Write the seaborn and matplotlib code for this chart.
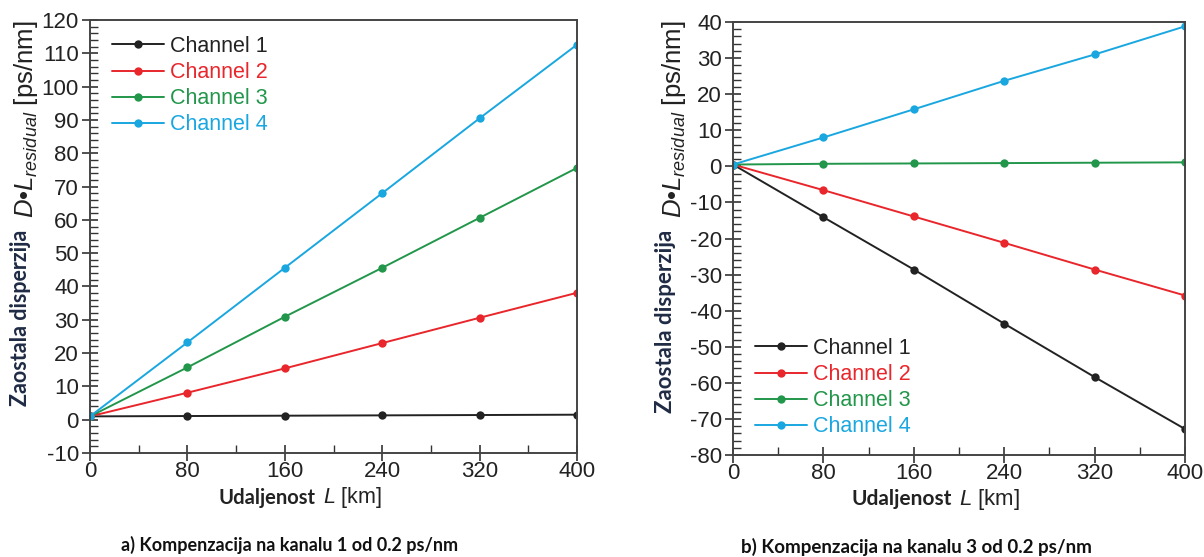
import numpy as np
import pandas as pd
import matplotlib
matplotlib.use("Agg")
import matplotlib.pyplot as plt
from matplotlib.ticker import MultipleLocator
import seaborn as sns

# ---- data ----
distance = [0, 80, 160, 240, 320, 400]
channels = ["Channel 1", "Channel 2", "Channel 3", "Channel 4"]

a_ch1 = [1.0, 1.1, 1.2, 1.3, 1.4, 1.5]
a_ch2 = [1.0, 8.1, 15.4, 23.0, 30.6, 38.1]
a_ch3 = [1.0, 15.7, 30.9, 45.6, 60.6, 75.6]
a_ch4 = [1.0, 23.2, 45.6, 68.0, 90.5, 112.6]

b_ch1 = [0.5, -14.1, -28.6, -43.6, -58.4, -72.8]
b_ch2 = [0.5, -6.6, -13.9, -21.2, -28.6, -35.8]
b_ch3 = [0.5, 0.7, 0.8, 0.9, 1.0, 1.1]
b_ch4 = [0.5, 8.0, 15.8, 23.7, 31.0, 38.8]

captions = ["a) Kompenzacija na kanalu 1 od 0.2 ps/nm",
            "b) Kompenzacija na kanalu 3 od 0.2 ps/nm"]
colors = ["#222222", "#e8262b", "#22964a", "#1aa7e0"]

def long_df(series):
    rows = []
    for name, vals in zip(channels, series):
        for x, y in zip(distance, vals):
            rows.append({"L": x, "D": y, "ch": name})
    return pd.DataFrame(rows)

df_a = long_df([a_ch1, a_ch2, a_ch3, a_ch4])
df_b = long_df([b_ch1, b_ch2, b_ch3, b_ch4])

sns.set_style("ticks")
plt.rcParams["font.family"] = ["Liberation Sans", "DejaVu Sans"]
plt.rcParams["axes.unicode_minus"] = False
plt.rcParams["mathtext.fontset"] = "custom"
plt.rcParams["mathtext.it"] = "Liberation Sans:italic"
plt.rcParams["mathtext.rm"] = "Liberation Sans"

fig = plt.figure(figsize=(12.04, 5.57), dpi=100)
W, H = 1204, 557
ax_a = fig.add_axes([90 / W, 1 - 453 / H, (577 - 90) / W, (453 - 20) / H])
ax_b = fig.add_axes([733 / W, 1 - 455 / H, (1185 - 733) / W, (455 - 22) / H])

pal = dict(zip(channels, colors))

def style_ax(ax, ylim, ystep):
    ax.set_xlim(0, 400)
    ax.set_ylim(*ylim)
    ax.xaxis.set_major_locator(MultipleLocator(80))
    ax.xaxis.set_minor_locator(MultipleLocator(40))
    ax.yaxis.set_major_locator(MultipleLocator(ystep))
    ax.yaxis.set_minor_locator(MultipleLocator(2))
    ax.tick_params(axis="both", which="major", direction="inout", length=12,
                   width=1.2, color="#333333", labelsize=16, labelcolor="#222222")
    ax.tick_params(axis="x", which="major", pad=0)
    ax.tick_params(axis="y", which="major", pad=2)
    ax.tick_params(axis="both", which="minor", direction="in", length=6,
                   width=1.0, color="#333333")
    ax.tick_params(top=False, right=False, which="both")
    for s in ax.spines.values():
        s.set_visible(True)
        s.set_color("#444444")
        s.set_linewidth(1.4)
    ax.set_xlabel("")
    ax.set_ylabel("")

def draw(ax, df, ylim, ystep, anchor):
    sns.lineplot(data=df, x="L", y="D", hue="ch", palette=pal, marker="o",
                 markersize=6, markeredgewidth=0, linewidth=1.4, ax=ax,
                 legend=True)
    style_ax(ax, ylim, ystep)
    leg = ax.legend(loc="upper left", bbox_to_anchor=(anchor[0] / W, 1 - anchor[1] / H),
                    bbox_transform=fig.transFigure, frameon=False, fontsize=15.5,
                    handlelength=2.4, handletextpad=0.3, labelspacing=0.24,
                    borderaxespad=0, borderpad=0)
    for txt, c in zip(leg.get_texts(), colors):
        txt.set_color(c)
    return leg

draw(ax_a, df_a, (-10, 120), 10, (112, 36))
draw(ax_b, df_b, (-80, 40), 10, (755, 338))

navy = "#1f2a44"
fig.canvas.draw()
renderer = fig.canvas.get_renderer()

def ylabel_parts(x_bold, x_math, y_top, fs_bold, fs_math, gap):
    tm = fig.text(x_math / W, 1 - y_top / H,
                  r"$D$•$L_{residual}$ [ps/nm]", rotation=90, ha="center",
                  va="top", fontsize=fs_math, color="#222222",
                  family=["Liberation Sans", "DejaVu Sans"])
    bb = tm.get_window_extent(renderer=renderer)
    y_next = H - bb.y0 + gap  # pixel from top
    fig.text(x_bold / W, 1 - y_next / H, "Zaostala disperzija", rotation=90,
             ha="center", va="top", fontsize=fs_bold, fontweight="bold",
             family=["Lato", "DejaVu Sans"], color=navy)

ylabel_parts(21, 26, 20, 15.5, 18.5, 12)
ylabel_parts(666, 674, 20, 16, 18.5, 12)

def xlabel_parts(xend, y, fs_bold, fs_math):
    fig.text(xend / W, 1 - y / H, "Udaljenost", ha="right", va="center",
             fontsize=fs_bold, fontweight="bold", family=["Lato", "DejaVu Sans"],
             color="#222222")
    fig.text((xend + 7) / W, 1 - y / H, r"$L$ [km]", ha="left", va="center",
             fontsize=fs_math, color="#222222",
             family=["Liberation Sans", "DejaVu Sans"])

xlabel_parts(316, 498, 14.5, 15.5)
xlabel_parts(952, 499, 15, 16)

fig.text(290 / W, 1 - 545 / H, captions[0], ha="center", va="center",
         fontsize=13, fontweight="bold", family=["Lato", "DejaVu Sans"],
         color="#111111")
fig.text(916 / W, 1 - 547 / H, captions[1], ha="center", va="center",
         fontsize=13.5, fontweight="bold", family=["Lato", "DejaVu Sans"],
         color="#111111")

fig.savefig("out.png", dpi=100)
